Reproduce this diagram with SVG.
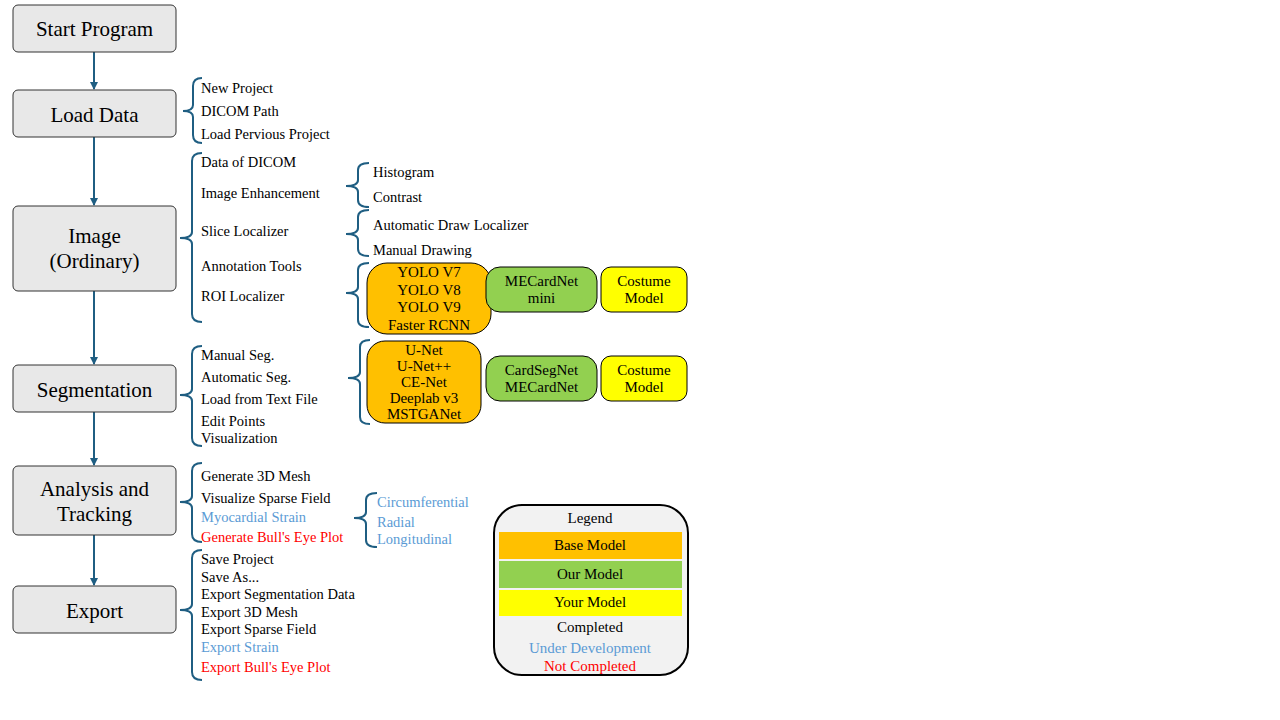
<svg xmlns="http://www.w3.org/2000/svg" width="1280" height="720" viewBox="0 0 1280 720">
<defs>
<marker id="ah" markerWidth="8" markerHeight="8" refX="7" refY="4" orient="auto" markerUnits="userSpaceOnUse">
<path d="M0,0 L8,4 L0,8 Z" fill="#1f5e82"/>
</marker>
<style>
.node rect{fill:#e8e8e8;stroke:#333;stroke-width:1}
.nt{font-family:"Liberation Serif","Times New Roman",serif;font-size:21px;fill:#000;text-anchor:middle}
.t{font-family:"Liberation Serif","Times New Roman",serif;font-size:14.5px;fill:#000}
.m{font-family:"Liberation Serif","Times New Roman",serif;font-size:15px;fill:#000;text-anchor:middle}
.b{fill:#5b9bd5}
.r{fill:#ff0000}
.brace{fill:none;stroke:#1f5e82;stroke-width:2}
.conn line{stroke:#1f5e82;stroke-width:2}
.orange{fill:#ffc000;stroke:#000;stroke-width:1}
.green{fill:#92d050;stroke:#000;stroke-width:1}
.yellow{fill:#ffff00;stroke:#000;stroke-width:1}
</style>
</defs>
<rect width="1280" height="720" fill="#fff"/>

<g id="connectors" class="conn">
<line x1="94" y1="52" x2="94" y2="89" marker-end="url(#ah)"/>
<line x1="94" y1="137" x2="94" y2="205" marker-end="url(#ah)"/>
<line x1="94" y1="291" x2="94" y2="364" marker-end="url(#ah)"/>
<line x1="94" y1="412" x2="94" y2="465" marker-end="url(#ah)"/>
<line x1="94" y1="535" x2="94" y2="585" marker-end="url(#ah)"/>
</g>

<g id="braces" class="brace">
<path d="M202,78 Q193,78 193,86 L193,105 Q193,111 183,111 Q193,111 193,117 L193,135 Q193,143 202,143"/>
<path d="M202,153 Q192,153 192,161 L192,232 Q192,238 180,238 Q192,238 192,244 L192,314 Q192,322 202,322"/>
<path d="M369,163 Q358,163 358,170 L358,180 Q358,186 346,186 Q358,186 358,192 L358,200 Q358,207 369,207"/>
<path d="M369,210 Q358,210 358,217 L358,228 Q358,234 346,234 Q358,234 358,240 L358,249 Q358,256 369,256"/>
<path d="M369,263 Q358,263 358,270 L358,287 Q358,293 346,293 Q358,293 358,299 L358,320 Q358,327 369,327"/>
<path d="M202,346 Q192,346 192,354 L192,389 Q192,395 180,395 Q192,395 192,401 L192,438 Q192,446 202,446"/>
<path d="M370,340 Q360,340 360,347 L360,372 Q360,378 348,378 Q360,378 360,384 L360,417 Q360,424 370,424"/>
<path d="M202,463 Q192,463 192,471 L192,496 Q192,502 180,502 Q192,502 192,508 L192,534 Q192,542 202,542"/>
<path d="M377,493 Q366,493 366,500 L366,512 Q366,518 354,518 Q366,518 366,524 L366,540 Q366,547 377,547"/>
<path d="M202,550 Q192,550 192,558 L192,604 Q192,610 180,610 Q192,610 192,616 L192,672 Q192,680 202,680"/>
</g>

<g id="n-start" class="node">
<rect x="13" y="5" width="163" height="47" rx="5"/>
<text class="nt" x="94.5" y="36">Start Program</text>
</g>
<g id="n-load" class="node">
<rect x="13" y="90" width="163" height="47" rx="5"/>
<text class="nt" x="94.5" y="122">Load Data</text>
</g>
<g id="n-image" class="node">
<rect x="13" y="206" width="163" height="85" rx="5"/>
<text class="nt" x="94.5" y="243">Image</text>
<text class="nt" x="94.5" y="268">(Ordinary)</text>
</g>
<g id="n-seg" class="node">
<rect x="13" y="365" width="163" height="47" rx="5"/>
<text class="nt" x="94.5" y="397">Segmentation</text>
</g>
<g id="n-analysis" class="node">
<rect x="13" y="466" width="163" height="69" rx="5"/>
<text class="nt" x="94.5" y="496">Analysis  and</text>
<text class="nt" x="94.5" y="521">Tracking</text>
</g>
<g id="n-export" class="node">
<rect x="13" y="586" width="163" height="47" rx="5"/>
<text class="nt" x="94.5" y="618">Export</text>
</g>

<g id="load-items">
<text class="t" x="201" y="93">New Project</text>
<text class="t" x="201" y="116">DICOM Path</text>
<text class="t" x="201" y="139">Load Pervious Project</text>
</g>
<g id="image-items">
<text class="t" x="201" y="167">Data of DICOM</text>
<text class="t" x="201" y="198">Image Enhancement</text>
<text class="t" x="201" y="236">Slice  Localizer</text>
<text class="t" x="201" y="271">Annotation  Tools</text>
<text class="t" x="201" y="301">ROI Localizer</text>
<text class="t" x="373" y="177">Histogram</text>
<text class="t" x="373" y="202">Contrast</text>
<text class="t" x="373" y="230">Automatic Draw Localizer</text>
<text class="t" x="373" y="255">Manual Drawing</text>
</g>
<g id="seg-items">
<text class="t" x="201" y="360">Manual Seg.</text>
<text class="t" x="201" y="382">Automatic Seg.</text>
<text class="t" x="201" y="404">Load from Text File</text>
<text class="t" x="201" y="426">Edit  Points</text>
<text class="t" x="201" y="443">Visualization</text>
</g>
<g id="analysis-items">
<text class="t" x="201" y="481">Generate 3D Mesh</text>
<text class="t" x="201" y="503">Visualize  Sparse Field</text>
<text class="t b" x="201" y="522">Myocardial  Strain</text>
<text class="t r" x="201" y="542">Generate Bull's  Eye Plot</text>
<text class="t b" x="377" y="507">Circumferential</text>
<text class="t b" x="377" y="527">Radial</text>
<text class="t b" x="377" y="544">Longitudinal</text>
</g>
<g id="export-items">
<text class="t" x="201" y="564">Save Project</text>
<text class="t" x="201" y="582">Save As...</text>
<text class="t" x="201" y="599">Export Segmentation  Data</text>
<text class="t" x="201" y="617">Export 3D Mesh</text>
<text class="t" x="201" y="634">Export Sparse Field</text>
<text class="t b" x="201" y="652">Export Strain</text>
<text class="t r" x="201" y="672">Export Bull's  Eye Plot</text>
</g>

<g id="roi-base">
<rect class="orange" x="367" y="263" width="124" height="71" rx="20"/>
<text class="m" x="429" y="277">YOLO V7</text>
<text class="m" x="429" y="295">YOLO V8</text>
<text class="m" x="429" y="312">YOLO V9</text>
<text class="m" x="429" y="330">Faster RCNN</text>
</g>
<g id="roi-our">
<rect class="green" x="486" y="267" width="111" height="45" rx="14"/>
<text class="m" x="541.5" y="286">MECardNet</text>
<text class="m" x="541.5" y="303">mini</text>
</g>
<g id="roi-your">
<rect class="yellow" x="601" y="267" width="86" height="45" rx="10"/>
<text class="m" x="644" y="286">Costume</text>
<text class="m" x="644" y="303">Model</text>
</g>
<g id="seg-base">
<rect class="orange" x="367" y="341" width="114" height="82" rx="18"/>
<text class="m" x="424" y="355">U-Net</text>
<text class="m" x="424" y="371">U-Net++</text>
<text class="m" x="424" y="387">CE-Net</text>
<text class="m" x="424" y="403">Deeplab v3</text>
<text class="m" x="424" y="419">MSTGANet</text>
</g>
<g id="seg-our">
<rect class="green" x="486" y="356" width="111" height="45" rx="14"/>
<text class="m" x="541.5" y="375">CardSegNet</text>
<text class="m" x="541.5" y="392">MECardNet</text>
</g>
<g id="seg-your">
<rect class="yellow" x="601" y="356" width="86" height="45" rx="10"/>
<text class="m" x="644" y="375">Costume</text>
<text class="m" x="644" y="392">Model</text>
</g>

<g id="legend">
<rect x="494" y="505" width="194" height="170" rx="28" fill="#f2f2f2" stroke="#000" stroke-width="2"/>
<rect x="499" y="532" width="183" height="27" fill="#ffc000"/>
<rect x="499" y="561" width="183" height="27" fill="#92d050"/>
<rect x="499" y="590" width="183" height="26" fill="#ffff00"/>
<text class="m" x="590" y="523">Legend</text>
<text class="m" x="590" y="550">Base Model</text>
<text class="m" x="590" y="579">Our Model</text>
<text class="m" x="590" y="607">Your Model</text>
<text class="m" x="590" y="632">Completed</text>
<text class="m b" x="590" y="653">Under Development</text>
<text class="m r" x="590" y="671">Not Completed</text>
</g>
</svg>
